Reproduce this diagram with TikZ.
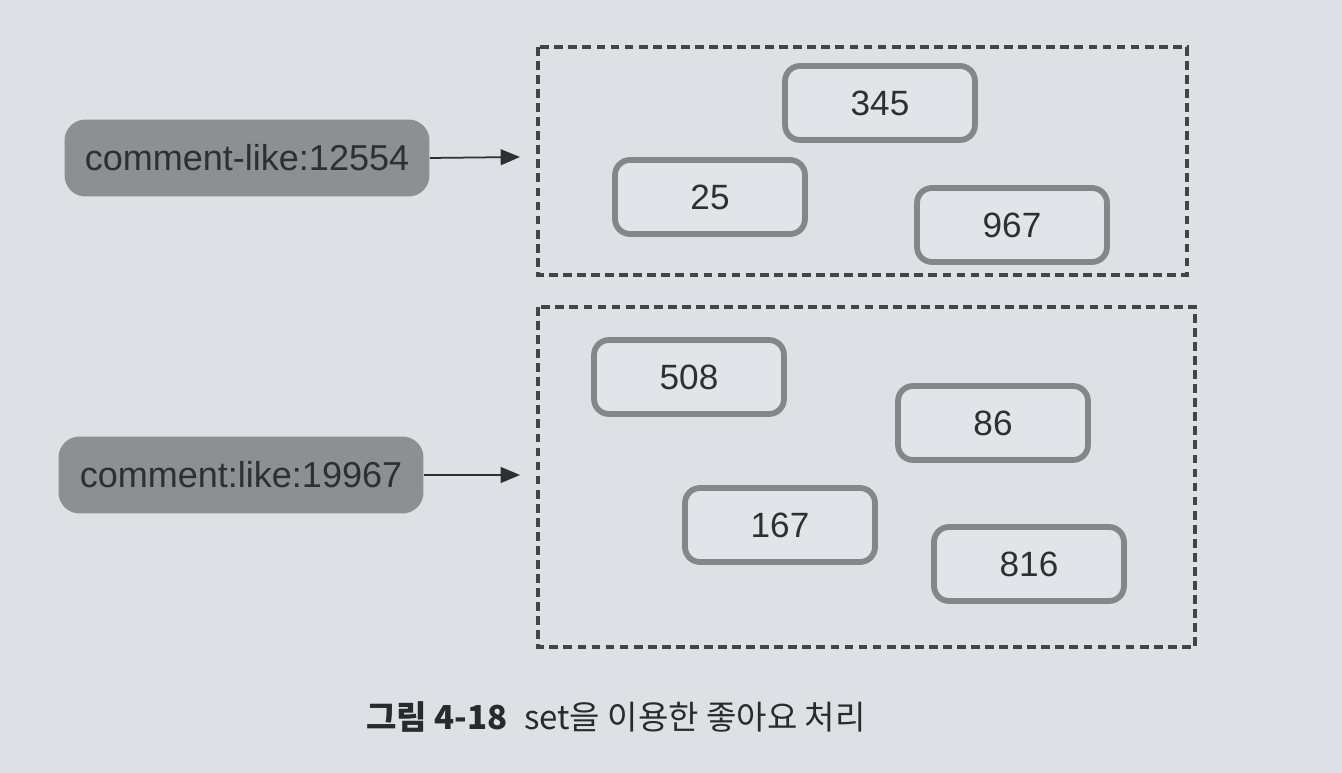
\documentclass[tikz,border=0pt]{standalone}
\usepackage{fontspec}
\setmainfont{Liberation Sans}
\newfontfamily\krfont{Noto Sans CJK KR}
\usetikzlibrary{arrows.meta}

\definecolor{paper}{HTML}{DDE0E5}
\definecolor{boxfill}{HTML}{E1E4E9}
\definecolor{keygray}{HTML}{8E8F92}
\definecolor{boxgray}{HTML}{858689}
\definecolor{inkgray}{HTML}{2E2F32}

\tikzset{
  keynode/.style={fill=keygray,rounded corners=0.42cm,minimum width=7.3cm,
    minimum height=1.54cm,inner sep=0pt,text=inkgray,
    font=\fontsize{20.5}{24}\selectfont},
  valnode/.style={draw=boxgray,fill=boxfill,line width=3.3pt,rounded corners=0.3cm,
    minimum width=3.8cm,minimum height=1.48cm,inner sep=0pt,text=inkgray,
    font=\fontsize{20}{24}\selectfont},
  setbox/.style={draw=inkgray!90,line width=2.2pt,dash pattern=on 5pt off 3pt},
  keyarrow/.style={draw=inkgray,line width=1pt,-{Triangle[length=11pt,width=9pt]}}
}

\begin{document}
\begin{tikzpicture}[x=0.02cm,y=-0.02cm]
		\path[fill=paper] (0,0) rectangle (1342,773);
		
		% the two sets
		\path[setbox] (538,47) rectangle (1187,275);
		\path[setbox] (538,307) rectangle (1195,647);
		
		% keys
		\node[keynode] (key1) at (247,158) {comment-like:12554};
		\node[keynode] (key2) at (241,475) {comment:like:19967};
		\coordinate (set1) at (520,157);
		\coordinate (set2) at (520,475);
		\draw[keyarrow] (key1.east) -- (set1);
		\draw[keyarrow] (key2.east) -- (set2);
		
		% members of the first set
		\node[valnode] (v345) at (880,103) {345};
		\node[valnode] (v25) at (710,197) {25};
		\node[valnode] (v967) at (1012,225) {967};
		
		% members of the second set
		\node[valnode] (v508) at (689,377) {508};
		\node[valnode] (v86) at (993,423) {86};
		\node[valnode] (v167) at (780,525) {167};
		\node[valnode] (v816) at (1029,564) {816};
		
		\node[anchor=west,text=inkgray!90!black,font=\krfont\fontsize{18.8}{22}\selectfont] (caption) at (360,717)
			{\bfseries 그림 4-18\hspace{0.5em}\mdseries set을 이용한 좋아요 처리};
	\end{tikzpicture}
\end{document}
